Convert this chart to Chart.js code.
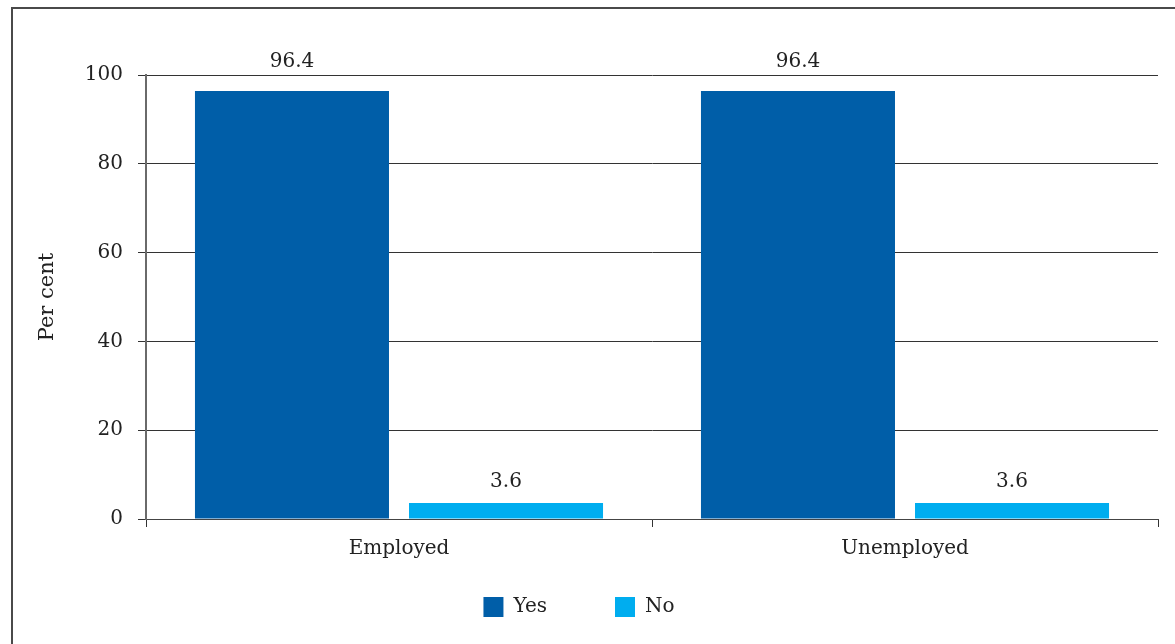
<!DOCTYPE html>
<html>
<head>
<meta charset="utf-8">
<script src="https://cdn.jsdelivr.net/npm/chart.js@4/dist/chart.umd.min.js"></script>
<style>
  html, body { margin: 0; padding: 0; background: #fff; overflow: hidden; }
  #wrap { position: relative; width: 1175px; height: 644px; }
  #frame { position: absolute; left: 11px; top: 7px; width: 1200px; height: 700px;
           border: 2px solid #4a4a4a; box-sizing: border-box; }
  canvas { position: absolute; left: 0; top: 0; }
</style>
</head>
<body>
<div id="wrap">
  <div id="frame"></div>
  <canvas id="chart" width="1175" height="644"></canvas>
</div>
<script>
// chart data
const categories = ['Employed', 'Unemployed'];
const yesValues = [96.4, 96.4];
const noValues = [3.6, 3.6];
const seriesNames = ['Yes', 'No'];
const seriesColors = ['#005ea8', '#00adef'];

const FONT = '"DejaVu Serif", serif';
const FONT_SIZE = 20;
const LEGEND_GAP = 68;

// value labels above bars; kept clear of the top gridline
const barLabels = {
    id: 'barLabels',
    afterDatasetsDraw(chart) {
        const ctx = chart.ctx;
        const top = chart.chartArea.top;
        ctx.save();
        ctx.font = FONT_SIZE + 'px ' + FONT;
        ctx.fillStyle = '#222';
        ctx.textAlign = 'center';
        ctx.textBaseline = 'bottom';
        chart.data.datasets.forEach((ds, i) => {
            chart.getDatasetMeta(i).data.forEach((bar, j) => {
                let y = bar.y - 11;
                if (y - FONT_SIZE < top + 2) y = top - 3;
                ctx.fillText(ds.data[j].toFixed(1), bar.x, y);
            });
        });
        ctx.restore();
    }
};

// pull the legend up under the axis labels (big label padding = wide item gap)
const legendNudge = {
    id: 'legendNudge',
    afterLayout(chart) {
        const lg = chart.legend;
        if (!lg) return;
        lg.top = chart.scales.x.top + 10;
        lg.bottom = lg.top + LEGEND_GAP + 40;
    }
};

try {
    new Chart(document.getElementById('chart'), {
        type: 'bar',
        data: {
            labels: categories,
            datasets: [
                { label: seriesNames[0], data: yesValues, backgroundColor: seriesColors[0],
                  categoryPercentage: 0.846, barPercentage: 0.9065 },
                { label: seriesNames[1], data: noValues, backgroundColor: seriesColors[1],
                  categoryPercentage: 0.846, barPercentage: 0.9065 }
            ]
        },
        options: {
            responsive: false,
            animation: false,
            layout: { padding: { left: 0, right: 17, top: 75, bottom: 33 } },
            plugins: {
                tooltip: { enabled: false },
                legend: {
                    position: 'bottom',
                    maxHeight: 40,
                    labels: {
                        boxWidth: 20, boxHeight: 20, padding: LEGEND_GAP,
                        color: '#222', font: { family: FONT, size: FONT_SIZE }
                    }
                }
            },
            scales: {
                x: {
                    grid: { offset: true, drawOnChartArea: false, drawTicks: true,
                            tickLength: 8, color: '#333' },
                    border: { color: '#444', width: 1 },
                    ticks: { color: '#222', padding: 10, font: { family: FONT, size: FONT_SIZE } }
                },
                y: {
                    min: 0, max: 100,
                    ticks: { stepSize: 20, color: '#222', padding: 15,
                             font: { family: FONT, size: FONT_SIZE } },
                    grid: { color: '#333', tickLength: 8 },
                    border: { color: '#6a6a6a', width: 2 },
                    title: { display: true, text: 'Per cent', color: '#222',
                             font: { family: FONT, size: 21 }, padding: { top: 35, bottom: 0 } },
                    afterFit(scale) { scale.width = 146; }
                }
            }
        },
        plugins: [barLabels, legendNudge]
    });
} catch (e) {
    console.error('Chart Error:', e);
}
</script>
</body>
</html>
